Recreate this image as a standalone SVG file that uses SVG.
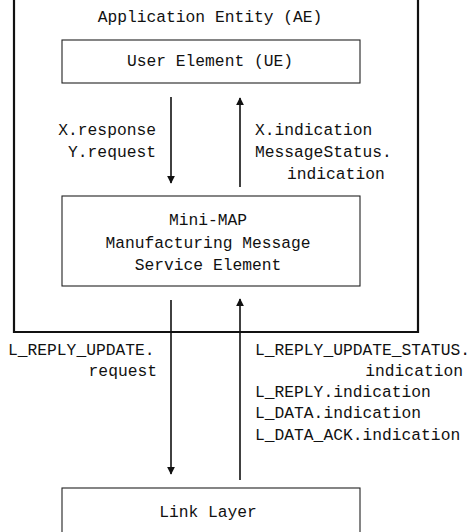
<svg xmlns="http://www.w3.org/2000/svg" width="470" height="532" viewBox="0 0 470 532">
<style>
text{font-family:"Liberation Mono","DejaVu Sans Mono",monospace;font-size:16.3px;fill:#111}
.box{fill:none;stroke:#222;stroke-width:1.1}
.ae{fill:none;stroke:#111;stroke-width:2.2}
.arr{stroke:#111;stroke-width:1.6;fill:none}
.m{text-anchor:middle}
.e{text-anchor:end}
</style>
<defs>
<marker id="ah" viewBox="0 0 10 10" refX="9" refY="5" markerWidth="8" markerHeight="8" markerUnits="userSpaceOnUse" orient="auto">
<path d="M0,0 L10,5 L0,10 z" fill="#111"/>
</marker>
</defs>
<rect width="470" height="532" fill="#fff"/>
<g id="ae">
<path class="ae" d="M14,0 V332 H418 V0"/>
<text class="m" x="210" y="22">Application Entity (AE)</text>
</g>
<g id="ue">
<rect class="box" x="62" y="40" width="298" height="43"/>
<text class="m" x="210" y="66">User Element (UE)</text>
</g>
<g id="mms">
<rect class="box" x="62" y="196" width="298" height="90"/>
<text class="m" x="208" y="225">Mini-MAP</text>
<text class="m" x="208" y="248">Manufacturing Message</text>
<text class="m" x="208" y="270">Service Element</text>
</g>
<g id="link">
<rect class="box" x="62" y="488" width="298" height="60"/>
<text class="m" x="208" y="517">Link Layer</text>
</g>
<g id="connectors">
<line class="arr" x1="171" y1="97" x2="171" y2="183" marker-end="url(#ah)"/>
<line class="arr" x1="240" y1="187" x2="240" y2="98" marker-end="url(#ah)"/>
<line class="arr" x1="171" y1="300" x2="171" y2="474" marker-end="url(#ah)"/>
<line class="arr" x1="240" y1="480" x2="240" y2="299" marker-end="url(#ah)"/>
</g>
<g id="labels">
<text class="e" x="156" y="135">X.response</text>
<text class="e" x="156" y="157">Y.request</text>
<text x="255" y="135">X.indication</text>
<text x="255" y="157">MessageStatus.</text>
<text x="287" y="179">indication</text>
<text x="8" y="355">L_REPLY_UPDATE.</text>
<text class="e" x="157" y="376">request</text>
<text x="255" y="355">L_REPLY_UPDATE_STATUS.</text>
<text class="e" x="463" y="376">indication</text>
<text x="255" y="397">L_REPLY.indication</text>
<text x="255" y="418">L_DATA.indication</text>
<text x="255" y="440">L_DATA_ACK.indication</text>
</g>
</svg>
